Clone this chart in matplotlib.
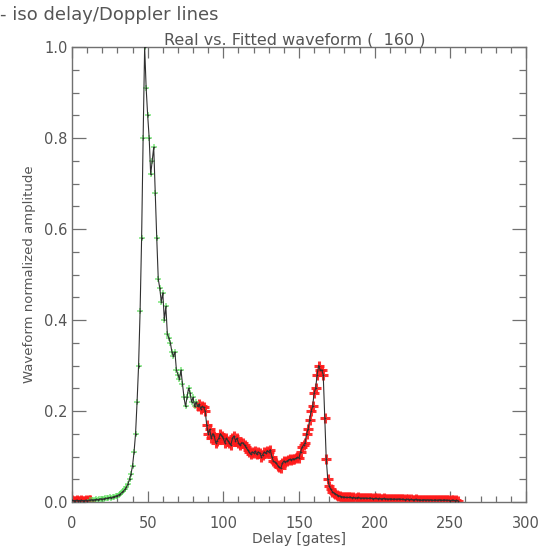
import numpy as np
import matplotlib
matplotlib.use("Agg")
import matplotlib.pyplot as plt
from matplotlib.ticker import MultipleLocator

# waveform samples per gate (0..255)
amp_lead = [0.004, 0.003, 0.003, 0.004, 0.003, 0.003, 0.004, 0.003, 0.003, 0.004, 0.003, 0.004]
amp_fit = [0.004, 0.005, 0.004, 0.005, 0.006, 0.005, 0.006, 0.007, 0.006, 0.007,
           0.008, 0.008, 0.009, 0.010, 0.009, 0.011, 0.012, 0.013, 0.014, 0.016,
           0.018, 0.021, 0.024,
           0.028, 0.033, 0.040, 0.050, 0.062, 0.080, 0.110, 0.150, 0.220, 0.300,
           0.420, 0.580, 0.800, 1.000,
           0.91, 0.85, 0.80, 0.72, 0.75, 0.78, 0.68, 0.58, 0.49, 0.47,
           0.44, 0.46, 0.40, 0.43, 0.37, 0.36, 0.35, 0.33, 0.32, 0.33,
           0.29, 0.28, 0.27, 0.29, 0.26, 0.23, 0.21, 0.23, 0.25, 0.24,
           0.22, 0.23, 0.21, 0.22]
amp_tail = [0.210, 0.215, 0.205, 0.210, 0.208, 0.200, 0.170, 0.150, 0.160, 0.140,
            0.150, 0.145, 0.130, 0.135, 0.140, 0.150, 0.145, 0.140, 0.130, 0.140,
            0.135, 0.130, 0.125, 0.140, 0.145, 0.135, 0.140, 0.130, 0.125, 0.130,
            0.130, 0.125, 0.120, 0.115, 0.110, 0.105, 0.110, 0.108, 0.112, 0.105,
            0.110, 0.108, 0.100, 0.104, 0.110, 0.107, 0.113, 0.110, 0.115, 0.100,
            0.090, 0.088, 0.085, 0.080, 0.076, 0.074, 0.085, 0.090, 0.088, 0.090,
            0.092, 0.094, 0.093, 0.095, 0.094, 0.096, 0.098, 0.097, 0.110, 0.120,
            0.125, 0.130, 0.150, 0.160, 0.180, 0.200, 0.210, 0.240, 0.250, 0.280,
            0.300, 0.290, 0.290, 0.280, 0.185, 0.095, 0.050, 0.035, 0.028, 0.023,
            0.020, 0.018, 0.016, 0.014, 0.013, 0.012, 0.011, 0.011, 0.010, 0.010,
            0.010, 0.011, 0.009, 0.010, 0.009, 0.009, 0.010, 0.009, 0.008, 0.009,
            0.008, 0.009, 0.008, 0.008, 0.009, 0.008, 0.007, 0.008, 0.008, 0.007,
            0.008, 0.007, 0.007, 0.008, 0.007, 0.007, 0.006, 0.007, 0.007, 0.006,
            0.007, 0.006, 0.006, 0.007, 0.006, 0.006, 0.006, 0.005, 0.006, 0.006,
            0.005, 0.006, 0.005, 0.005, 0.006, 0.005, 0.005, 0.005, 0.004, 0.005,
            0.005, 0.004, 0.005, 0.004, 0.005, 0.004, 0.004, 0.005, 0.004, 0.004,
            0.005, 0.004, 0.004, 0.005, 0.004, 0.004, 0.004, 0.003, 0.004, 0.004,
            0.003, 0.004, 0.003]

amp = np.array(amp_lead + amp_fit + amp_tail)
gates = np.arange(len(amp))
n_lead = len(amp_lead)
n_fit_end = n_lead + len(amp_fit)

x_ticks = [0, 50, 100, 150, 200, 250, 300]
y_ticks = [0.0, 0.2, 0.4, 0.6, 0.8, 1.0]

txt = "#555555"
plt.rcParams["font.family"] = ["DejaVu Sans"]

fig = plt.figure(figsize=(5.48, 5.49), dpi=100)
ax = fig.add_axes([72 / 548, 1 - 502 / 549, (526 - 72) / 548, (502 - 47) / 549])

# real samples: green inside the fit window, red outside
red_idx = np.r_[0:n_lead + 1, n_fit_end:len(amp)]
grn_idx = np.arange(n_lead, n_fit_end)
ax.plot(gates[red_idx], amp[red_idx], ls="none", marker="+", ms=7, mew=2.2,
        color="#ff1a1a", alpha=0.9, zorder=2)
ax.plot(gates[grn_idx], amp[grn_idx], ls="none", marker="+", ms=5, mew=1.2,
        color="#55e055", alpha=0.7, zorder=2)

# fitted curve (black) with small marks
ax.plot(gates, amp, color="#303030", lw=0.8, zorder=3)
ax.plot(gates, amp, ls="none", marker="+", ms=2, mew=0.5, color="#303030", zorder=3)

ax.set_xlim(0, 300)
ax.set_ylim(0, 1.0)
ax.set_xticks(x_ticks)
ax.set_xticklabels([str(v) for v in x_ticks])
ax.set_yticks(y_ticks)
ax.set_yticklabels([f"{v:.1f}" for v in y_ticks])
ax.xaxis.set_minor_locator(MultipleLocator(10))
ax.yaxis.set_minor_locator(MultipleLocator(0.05))
ax.tick_params(which="both", direction="in", top=True, right=True, colors="#707070",
               labelcolor=txt, labelsize=10.5, width=0.9)
ax.tick_params(axis="x", which="major", length=8, pad=10)
ax.tick_params(axis="x", which="minor", length=4)
ax.tick_params(axis="y", which="major", length=10, pad=3)
ax.tick_params(axis="y", which="minor", length=5)
for s in ax.spines.values():
    s.set_color("#707070")
    s.set_linewidth(1.0)

ax.set_xlabel("Delay [gates]", color=txt, fontsize=10, labelpad=1)
ax.set_ylabel("Waveform normalized amplitude", color=txt, fontsize=9.5, labelpad=6)
ax.set_title("Real vs. Fitted waveform (  160 )", color=txt, fontsize=11.5, pad=1,
             x=0.49)
fig.text(0.0, 1 - 15 / 549, "- iso delay/Doppler lines", color=txt, fontsize=13,
         va="center", ha="left")

fig.savefig("out.png", dpi=100, facecolor="white")
